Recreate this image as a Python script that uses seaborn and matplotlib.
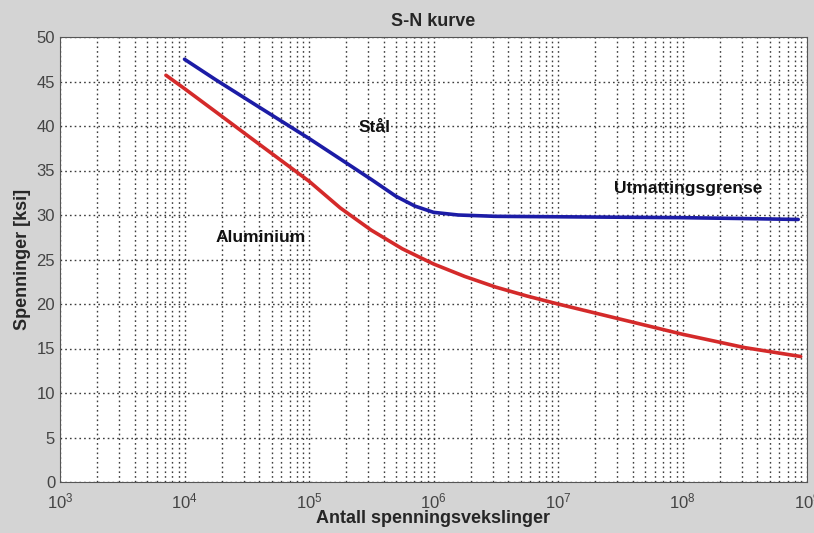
import matplotlib
matplotlib.use("Agg")
import matplotlib.pyplot as plt
import matplotlib.ticker as mticker
import seaborn as sns
import pandas as pd

# Steel (Stål) S-N curve: cycles vs stress [ksi]
steel_cycles = [1.0e4, 1.78e4, 3.16e4, 5.62e4, 1.0e5, 1.78e5, 3.16e5, 5.0e5,
                7.1e5, 1.0e6, 1.58e6, 3.16e6, 1.0e7, 3.16e7, 1.0e8, 3.16e8, 8.5e8]
steel_stress = [47.5, 45.2, 43.0, 40.8, 38.6, 36.3, 34.0, 32.1,
                31.0, 30.3, 30.0, 29.85, 29.8, 29.75, 29.7, 29.6, 29.5]

# Aluminium S-N curve
alu_cycles = [7.1e3, 1.0e4, 1.78e4, 3.16e4, 5.62e4, 1.0e5, 1.78e5, 3.16e5, 5.62e5,
              1.0e6, 1.78e6, 3.16e6, 5.62e6, 1.0e7, 3.16e7, 1.0e8, 3.16e8, 8.9e8]
alu_stress = [45.7, 44.2, 41.6, 39.0, 36.4, 33.8, 30.8, 28.3, 26.2,
              24.5, 23.1, 21.9, 20.9, 20.0, 18.3, 16.6, 15.1, 14.1]

y_ticks = [0, 5, 10, 15, 20, 25, 30, 35, 40, 45, 50]

sns.set_theme(style="white")
plt.rcParams['font.family'] = ['Liberation Sans', 'DejaVu Sans']

fig = plt.figure(figsize=(8.14, 5.33), dpi=100, facecolor="#d4d4d4")
ax = fig.add_axes([60 / 814, 1 - 482 / 533, 747 / 814, 445 / 533])
ax.set_facecolor("white")

steel = pd.DataFrame({"N": steel_cycles, "S": steel_stress})
alu = pd.DataFrame({"N": alu_cycles, "S": alu_stress})
sns.lineplot(data=steel, x="N", y="S", ax=ax, color="#1c1ca6", linewidth=2.6, sort=False)
sns.lineplot(data=alu, x="N", y="S", ax=ax, color="#d42a2a", linewidth=2.6, sort=False)

ax.set_xscale("log")
ax.set_xlim(1e3, 1e9)
ax.set_ylim(0, 50)
ax.set_yticks(y_ticks)
ax.xaxis.set_major_locator(mticker.LogLocator(base=10, numticks=10))
ax.xaxis.set_minor_locator(mticker.LogLocator(base=10, subs=range(2, 10), numticks=100))
ax.xaxis.set_minor_formatter(mticker.NullFormatter())

ax.grid(True, which="major", axis="both", linestyle=(0, (1.2, 2.2)), color="#3c3c3c", linewidth=1.0)
ax.grid(True, which="minor", axis="x", linestyle=(0, (1.2, 2.2)), color="#3c3c3c", linewidth=1.0)
ax.set_axisbelow(True)

ax.tick_params(axis="both", which="both", direction="in", colors="#444444", labelsize=12)
ax.tick_params(axis="both", which="major", length=4)
ax.tick_params(axis="x", which="major", pad=7)
ax.tick_params(axis="x", which="minor", length=2)
for s in ax.spines.values():
    s.set_color("#555555")
    s.set_linewidth(0.8)

ax.text(10 ** 5.4, 39.8, "Stål", fontsize=12.5, fontweight="bold", color="#111111", va="center")
ax.text(10 ** 7.45, 33.0, "Utmattingsgrense", fontsize=12.5, fontweight="bold", color="#111111", va="center")
ax.text(10 ** 4.25, 27.5, "Aluminium", fontsize=12.5, fontweight="bold", color="#111111", va="center")

ax.set_title("S-N kurve", fontsize=13, fontweight="bold", pad=8)
ax.set_xlabel("Antall spenningsvekslinger", fontsize=13, fontweight="bold", labelpad=-1)
ax.set_ylabel("Spenninger [ksi]", fontsize=13, fontweight="bold", labelpad=4)

fig.savefig("out.png", dpi=100, facecolor=fig.get_facecolor())
